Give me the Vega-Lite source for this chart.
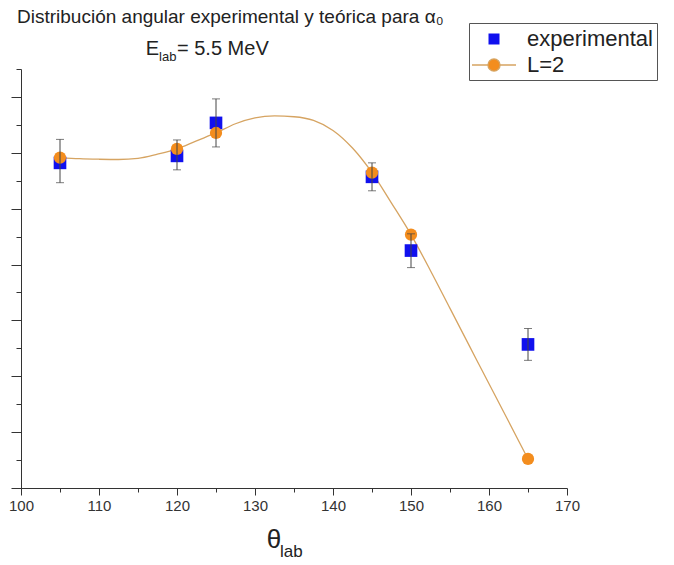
{
  "$schema": "https://vega.github.io/schema/vega-lite/v6.json",
  "autosize": {"type": "none"},
  "padding": {"left": 21, "top": 69, "right": 107, "bottom": 77},
  "width": 546,
  "height": 419,
  "background": "white",
  "config": {
    "view": {"stroke": null},
    "axis": {"grid": false, "domainColor": "#333", "tickColor": "#333", "labelColor": "#333", "labelFont": "Liberation Sans", "labelFontSize": 15, "title": null, "labelFlush": false}
  },
  "datasets": {
    "exp": [
      {"theta": 105, "series": "experimental", "value": 11.64, "lo": 10.93, "hi": 12.48},
      {"theta": 120, "series": "experimental", "value": 11.89, "lo": 11.39, "hi": 12.46},
      {"theta": 125, "series": "experimental", "value": 13.07, "lo": 12.21, "hi": 13.93},
      {"theta": 145, "series": "experimental", "value": 11.14, "lo": 10.64, "hi": 11.64},
      {"theta": 150, "series": "experimental", "value": 8.50, "lo": 7.89, "hi": 9.10},
      {"theta": 165, "series": "experimental", "value": 5.14, "lo": 4.57, "hi": 5.71}
    ],
    "teo": [
      {"theta": 105, "series": "L=2", "value": 11.83},
      {"theta": 120, "series": "L=2", "value": 12.14},
      {"theta": 125, "series": "L=2", "value": 12.71},
      {"theta": 145, "series": "L=2", "value": 11.29},
      {"theta": 150, "series": "L=2", "value": 9.07},
      {"theta": 165, "series": "L=2", "value": 1.04}
    ],
    "curve": [
      {"theta": 105, "value": 11.83},
      {"theta": 107.5, "value": 11.79},
      {"theta": 110, "value": 11.77},
      {"theta": 112.5, "value": 11.76},
      {"theta": 115, "value": 11.80},
      {"theta": 117.5, "value": 11.95},
      {"theta": 120, "value": 12.14},
      {"theta": 122.5, "value": 12.43},
      {"theta": 125, "value": 12.71},
      {"theta": 127.5, "value": 13.04},
      {"theta": 130, "value": 13.25},
      {"theta": 132.5, "value": 13.32},
      {"theta": 135, "value": 13.29},
      {"theta": 137.5, "value": 13.16},
      {"theta": 140, "value": 12.80},
      {"theta": 142.5, "value": 12.17},
      {"theta": 145, "value": 11.29},
      {"theta": 147.5, "value": 10.20},
      {"theta": 150, "value": 9.07},
      {"theta": 152.5, "value": 7.78},
      {"theta": 155, "value": 6.43},
      {"theta": 157.5, "value": 5.08},
      {"theta": 160, "value": 3.73},
      {"theta": 162.5, "value": 2.39},
      {"theta": 165, "value": 1.04}
    ],
    "labels": [
      {"theta": 99.49, "v": 16.64, "txt": "Distribución angular experimental y teórica para α₀", "kind": "title"},
      {"theta": 116.0, "v": 15.5, "txt": "E", "kind": "big"},
      {"theta": 117.7, "v": 15.27, "txt": "lab", "kind": "sub"},
      {"theta": 120.0, "v": 15.5, "txt": "= 5.5 MeV", "kind": "big"},
      {"theta": 131.5, "v": -2.15, "txt": "θ", "kind": "axis"},
      {"theta": 133.2, "v": -2.48, "txt": "lab", "kind": "axissub"}
    ]
  },
  "resolve": {"axis": {"x": "independent", "y": "independent"}},
  "layer": [
    {
      "data": {"name": "curve"},
      "mark": {"type": "line", "interpolate": "monotone", "color": "#d6a462", "strokeWidth": 1.3},
      "encoding": {
        "x": {"field": "theta", "type": "quantitative", "scale": {"domain": [100, 170], "nice": false, "zero": false},
              "axis": {"orient": "bottom", "values": [100, 110, 120, 130, 140, 150, 160, 170], "tickSize": 7, "labelPadding": 3, "format": "d"}},
        "y": {"field": "value", "type": "quantitative", "scale": {"domain": [0, 15], "nice": false, "zero": false},
              "axis": {"orient": "left", "values": [0, 1, 2, 3, 4, 5, 6, 7, 8, 9, 10, 11, 12, 13, 14, 15], "tickSize": 5, "labels": false}}
      }
    },
    {
      "data": {"name": "exp"},
      "mark": {"type": "point", "filled": true, "opacity": 1, "size": 160, "shape": "square"},
      "encoding": {
        "x": {"field": "theta", "type": "quantitative",
              "axis": {"orient": "bottom", "values": [105, 115, 125, 135, 145, 155, 165], "tickSize": 4, "labels": false, "domain": false}},
        "y": {"field": "value", "type": "quantitative",
              "axis": {"orient": "left", "values": [0, 2, 4, 6, 8, 10, 12, 14], "tickSize": 10, "labels": false, "domain": false}},
        "color": {"field": "series", "type": "nominal", "scale": {"domain": ["experimental", "L=2"], "range": ["#1010ee", "#f38d1e"]},
                  "legend": {"orient": "none", "legendX": 448, "legendY": -46, "title": null, "padding": 4, "strokeColor": "#555", "fillColor": "white",
                             "symbolSize": 484, "symbolOffset": 9, "labelOffset": 21, "labelFontSize": 22, "labelFont": "Liberation Sans", "labelColor": "#222", "rowPadding": 3,
                             "symbolType": {"expr": "datum.value === 'L=2' ? 'M-2,0H-0.55M0.55,0H2M0.55,0A0.55,0.55,0,1,1,-0.55,0A0.55,0.55,0,1,1,0.55,0Z' : 'M-0.5,-0.5H0.5V0.5H-0.5Z'"},
                             "symbolStrokeColor": {"expr": "datum.value === 'L=2' ? '#d6a462' : null"},
                             "symbolStrokeWidth": 1.3}
        }
      }
    },
    {
      "data": {"name": "teo"},
      "mark": {"type": "point", "filled": true, "opacity": 1, "size": 150, "shape": "circle", "color": "#f38d1e"},
      "encoding": {
        "x": {"field": "theta", "type": "quantitative", "axis": null},
        "y": {"field": "value", "type": "quantitative", "axis": null}
      }
    },
    {
      "data": {"name": "exp"},
      "mark": {"type": "rule", "color": "#444", "strokeWidth": 1},
      "encoding": {
        "x": {"field": "theta", "type": "quantitative", "axis": null},
        "y": {"field": "lo", "type": "quantitative", "axis": null},
        "y2": {"field": "hi"}
      }
    },
    {
      "data": {"name": "exp"},
      "mark": {"type": "tick", "orient": "horizontal", "color": "#444", "size": 8, "thickness": 1},
      "encoding": {
        "x": {"field": "theta", "type": "quantitative", "axis": null},
        "y": {"field": "lo", "type": "quantitative", "axis": null}
      }
    },
    {
      "data": {"name": "exp"},
      "mark": {"type": "tick", "orient": "horizontal", "color": "#444", "size": 8, "thickness": 1},
      "encoding": {
        "x": {"field": "theta", "type": "quantitative", "axis": null},
        "y": {"field": "hi", "type": "quantitative", "axis": null}
      }
    },
    {
      "data": {"name": "labels"},
      "transform": [{"filter": "datum.kind === 'title'"}],
      "mark": {"type": "text", "align": "left", "baseline": "alphabetic", "font": "Liberation Sans", "fontSize": 19, "color": "#222"},
      "encoding": {
        "x": {"field": "theta", "type": "quantitative", "axis": null},
        "y": {"field": "v", "type": "quantitative", "axis": null},
        "text": {"field": "txt"}
      }
    },
    {
      "data": {"name": "labels"},
      "transform": [{"filter": "datum.kind === 'big'"}],
      "mark": {"type": "text", "align": "left", "baseline": "alphabetic", "font": "Liberation Sans", "fontSize": 20, "color": "#222"},
      "encoding": {
        "x": {"field": "theta", "type": "quantitative", "axis": null},
        "y": {"field": "v", "type": "quantitative", "axis": null},
        "text": {"field": "txt"}
      }
    },
    {
      "data": {"name": "labels"},
      "transform": [{"filter": "datum.kind === 'sub'"}],
      "mark": {"type": "text", "align": "left", "baseline": "alphabetic", "font": "Liberation Sans", "fontSize": 13, "color": "#222"},
      "encoding": {
        "x": {"field": "theta", "type": "quantitative", "axis": null},
        "y": {"field": "v", "type": "quantitative", "axis": null},
        "text": {"field": "txt"}
      }
    },
    {
      "data": {"name": "labels"},
      "transform": [{"filter": "datum.kind === 'axis'"}],
      "mark": {"type": "text", "align": "left", "baseline": "alphabetic", "font": "Liberation Sans", "fontSize": 26, "color": "#222"},
      "encoding": {
        "x": {"field": "theta", "type": "quantitative", "axis": null},
        "y": {"field": "v", "type": "quantitative", "axis": null},
        "text": {"field": "txt"}
      }
    },
    {
      "data": {"name": "labels"},
      "transform": [{"filter": "datum.kind === 'axissub'"}],
      "mark": {"type": "text", "align": "left", "baseline": "alphabetic", "font": "Liberation Sans", "fontSize": 17, "color": "#222"},
      "encoding": {
        "x": {"field": "theta", "type": "quantitative", "axis": null},
        "y": {"field": "v", "type": "quantitative", "axis": null},
        "text": {"field": "txt"}
      }
    }
  ]
}
